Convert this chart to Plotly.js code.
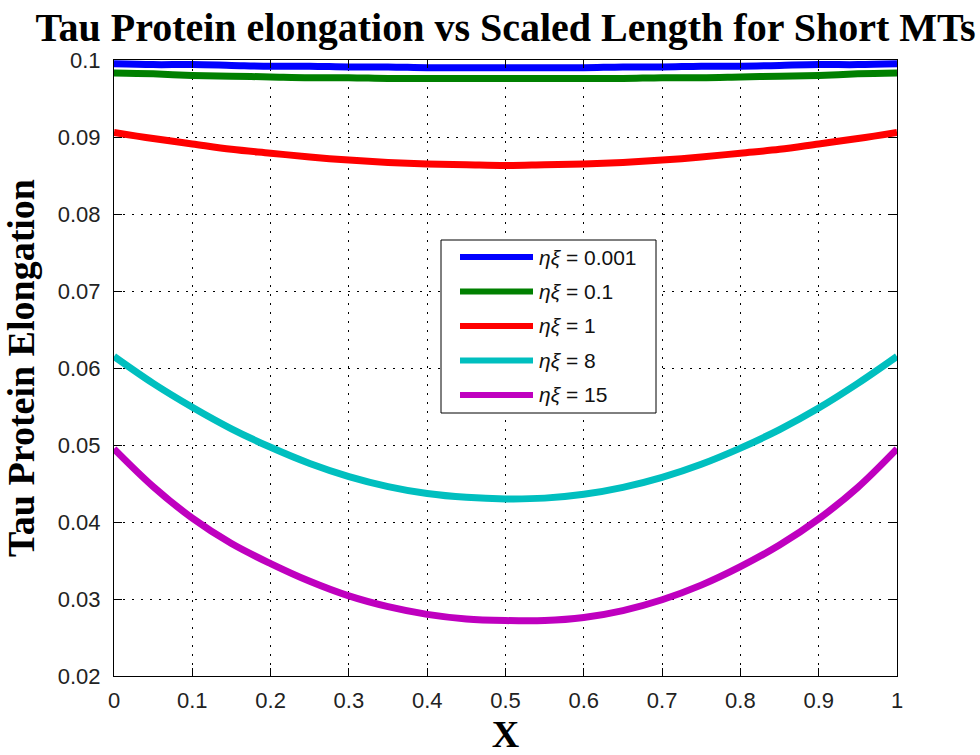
<!DOCTYPE html>
<html>
<head>
<meta charset="utf-8">
<script src="https://cdn.plot.ly/plotly-3.0.1.min.js"></script>
<style>html,body{margin:0;padding:0;background:#fff;}#chart{width:980px;height:755px;}</style>
</head>
<body>
<div id="chart"></div>
<script>
// ---- data ----
const xValues = [0, 0.05, 0.1, 0.15, 0.2, 0.25, 0.3, 0.35, 0.4, 0.45, 0.5, 0.55, 0.6, 0.65, 0.7, 0.75, 0.8, 0.85, 0.9, 0.95, 1];
const eta0001 = [0.0995, 0.0994, 0.0994, 0.0993, 0.0992, 0.0992, 0.0991, 0.0991, 0.0990, 0.0990, 0.0990, 0.0990, 0.0990, 0.0991, 0.0991, 0.0992, 0.0992, 0.0993, 0.0994, 0.0994, 0.0995];
const eta01   = [0.0983, 0.0982, 0.0980, 0.0979, 0.0978, 0.0977, 0.0977, 0.0976, 0.0976, 0.0976, 0.0976, 0.0976, 0.0976, 0.0976, 0.0977, 0.0977, 0.0978, 0.0979, 0.0980, 0.0982, 0.0983];
const eta1    = [0.0906, 0.0898, 0.0891, 0.0884, 0.0879, 0.0874, 0.0870, 0.0867, 0.0865, 0.0864, 0.0863, 0.0864, 0.0865, 0.0867, 0.0870, 0.0874, 0.0879, 0.0884, 0.0891, 0.0898, 0.0906];
const eta8    = [0.0615, 0.0580, 0.0549, 0.0521, 0.0497, 0.0476, 0.0459, 0.0446, 0.0437, 0.0432, 0.0430, 0.0431, 0.0436, 0.0445, 0.0458, 0.0475, 0.0496, 0.0520, 0.0548, 0.0580, 0.0615];
const eta15   = [0.0495, 0.0446, 0.0405, 0.0372, 0.0346, 0.0323, 0.0304, 0.0290, 0.0280, 0.0274, 0.0272, 0.0272, 0.0276, 0.0285, 0.0299, 0.0318, 0.0342, 0.0370, 0.0404, 0.0445, 0.0495];

const seriesValues = [eta0001, eta01, eta1, eta8, eta15];
const seriesNames  = ['<i>ηξ</i> = 0.001', '<i>ηξ</i> = 0.1', '<i>ηξ</i> = 1', '<i>ηξ</i> = 8', '<i>ηξ</i> = 15'];
const seriesColors = ['#0000FF', '#008000', '#FF0000', '#00BFBF', '#BF00BF'];

const xTicks = [0, 0.1, 0.2, 0.3, 0.4, 0.5, 0.6, 0.7, 0.8, 0.9, 1];
const xTickText = ['0', '0.1', '0.2', '0.3', '0.4', '0.5', '0.6', '0.7', '0.8', '0.9', '1'];
const yTicks = [0.02, 0.03, 0.04, 0.05, 0.06, 0.07, 0.08, 0.09, 0.1];
const yTickText = ['0.02', '0.03', '0.04', '0.05', '0.06', '0.07', '0.08', '0.09', '0.1'];

const titleText = 'Tau Protein elongation vs Scaled Length for Short MTs';
const xTitle = 'X';
const yTitle = 'Tau Protein Elongation';

// ---- traces ----
const traces = seriesValues.map((ys, i) => ({
  x: xValues, y: ys, type: 'scatter', mode: 'lines',
  name: seriesNames[i],
  line: {color: seriesColors[i], width: 7, shape: 'spline'},
  showlegend: false, hoverinfo: 'skip'
}));

// ---- custom MATLAB-style legend (paper = plot-area fractions) ----
const W = 980, H = 755, mL = 114, mR = 83, mT = 60, mB = 79;
const pw = W - mL - mR, ph = H - mT - mB;
const px = v => (v - mL) / pw;
const py = v => (H - mB - v) / ph;

const shapes = [{
  type: 'rect', xref: 'paper', yref: 'paper',
  x0: px(441), x1: px(656), y0: py(413), y1: py(240),
  line: {color: '#000', width: 1}, fillcolor: '#fff', layer: 'above'
}];
const annotations = [];
seriesNames.forEach((nm, i) => {
  const yy = 257 + 34.5 * i;
  shapes.push({type: 'line', xref: 'paper', yref: 'paper',
    x0: px(460), x1: px(533), y0: py(yy), y1: py(yy),
    line: {color: seriesColors[i], width: 6}, layer: 'above'});
  annotations.push({xref: 'paper', yref: 'paper', x: px(537), y: py(yy),
    xanchor: 'left', yanchor: 'middle', showarrow: false, text: nm,
    font: {family: 'Liberation Sans, Arial, sans-serif', size: 21, color: '#111'}});
});

const axisCommon = {
  showline: true, linecolor: '#000', linewidth: 1, mirror: 'ticks',
  ticks: 'inside', ticklen: 8, tickcolor: '#000', tickwidth: 1,
  showgrid: true, gridcolor: '#000', gridwidth: 1, griddash: '2px,7px',
  zeroline: false,
  tickfont: {family: 'Liberation Sans, Arial, sans-serif', size: 22, color: '#222'}
};

const layout = {
  width: W, height: H,
  paper_bgcolor: '#fff', plot_bgcolor: '#fff',
  margin: {l: mL, r: mR, t: mT, b: mB},
  title: {text: '<b>' + titleText + '</b>', x: 0.5, xref: 'paper', xanchor: 'center',
    y: 1 - 27 / H, yref: 'container', yanchor: 'middle',
    font: {family: 'Liberation Serif, Times New Roman, serif', size: 40, color: '#000'}},
  xaxis: Object.assign({}, axisCommon, {
    range: [0, 1], tickvals: xTicks, ticktext: xTickText, ticklabelstandoff: 5,
    title: {text: '<b>' + xTitle + '</b>', standoff: 8,
      font: {family: 'Liberation Serif, Times New Roman, serif', size: 38, color: '#000'}}
  }),
  yaxis: Object.assign({}, axisCommon, {
    range: [0.02, 0.1], tickvals: yTicks, ticktext: yTickText, ticklabelstandoff: 8,
    title: {text: '<b>' + yTitle + '</b>', standoff: 12,
      font: {family: 'Liberation Serif, Times New Roman, serif', size: 38, color: '#000'}}
  }),
  shapes: shapes,
  annotations: annotations,
  showlegend: false
};

Plotly.newPlot('chart', traces, layout, {displayModeBar: false, staticPlot: true});
</script>
</body>
</html>
